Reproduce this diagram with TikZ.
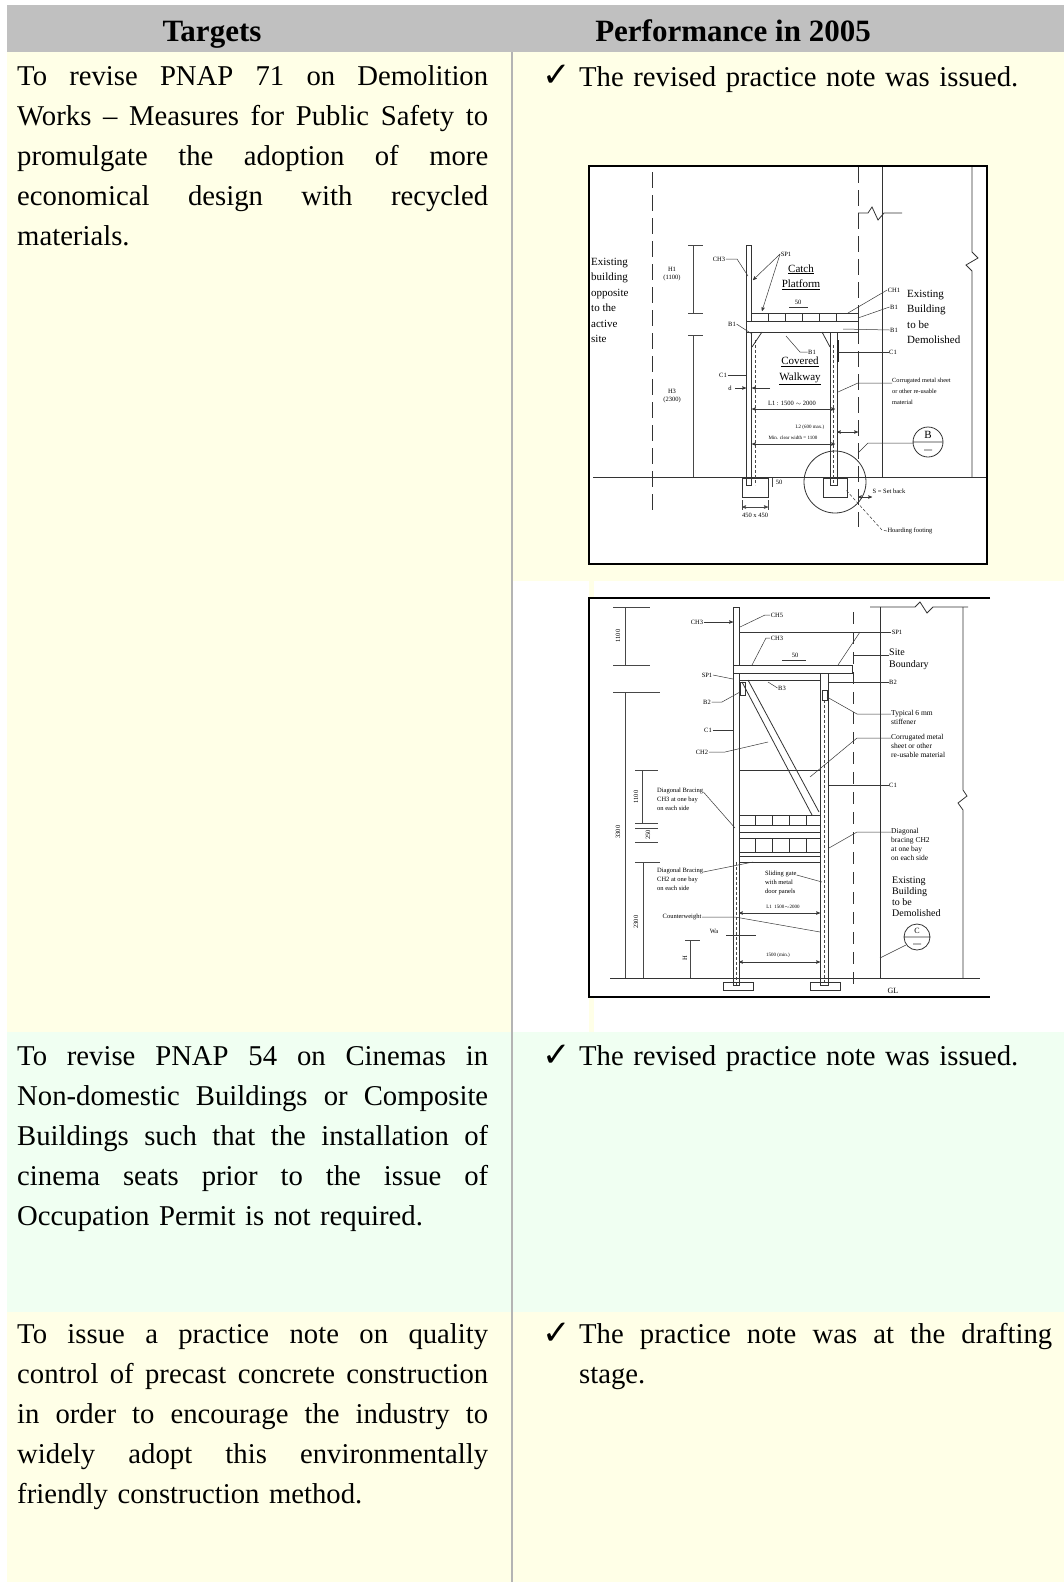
\documentclass[tikz,border=0pt]{standalone}
\usepackage{fontspec}
\setmainfont{Liberation Serif}
\newfontfamily\symfont{DejaVu Sans}
\usetikzlibrary{positioning, arrows}

\definecolor{headgray}{RGB}{192,192,192}
\definecolor{celly}{RGB}{255,255,231}
\definecolor{cellg}{RGB}{240,255,242}
\definecolor{rulegray}{RGB}{180,180,180}

% a justified line of a given width
\newcommand{\jl}[2][471pt]{\leavevmode\hbox to #1{\spaceskip=\fontdimen2\font plus 1fil\relax #2}}

\begin{document}
\begin{tikzpicture}[x=1pt, y=-1pt, >=stealth',
    body/.style={font=\fontsize{28.7}{40}\selectfont, inner sep=0pt, anchor=north west, text width=480pt, align=left},
    head/.style={font=\fontsize{31}{36}\selectfont\bfseries, inner sep=0pt, anchor=base},
    tick/.style={font=\symfont\bfseries\fontsize{34}{38}\selectfont, inner sep=0pt, anchor=base west},
    cl/.style={draw=black!80, line width=0.8pt},
    thinl/.style={draw=black!72, line width=0.55pt},
    ld/.style={draw=black!78, line width=0.5pt},
    lb/.style={font=\fontsize{6.5}{7.5}\selectfont, inner sep=0.5pt},
    lbm/.style={font=\fontsize{11}{15.5}\selectfont, inner sep=0pt, align=left, anchor=north west},
    lbs/.style={font=\fontsize{7.5}{9}\selectfont, inner sep=0pt, align=left, anchor=north west}]

  \useasboundingbox (0,0) rectangle (1064,1582);
  \fill[white] (0,0) rectangle (1064,1582);

  % table background
  \fill[headgray] (7,5) rectangle (1064,52);
  \fill[celly] (7,52) rectangle (1064,1032);
  \fill[white] (513,581) rectangle (1064,1032);
  \fill[celly] (589,581) rectangle (594,1032);
  \fill[cellg] (7,1032) rectangle (1064,1312);
  \fill[celly] (7,1312) rectangle (1064,1582);
  \draw[rulegray, line width=2pt] (512,52) -- (512,1582);

  \node[head] (hTarget) at (212,41) {Targets};
  \node[head] (hPerf) at (733,41) {Performance in 2005};

  % row 1
  \node[body] (tgtA) at (17,57) {\strut\jl{To revise PNAP 71 on Demolition}\\
    \jl{Works -- Measures for Public Safety to}\\
    \jl{promulgate the adoption of more}\\
    \jl{economical design with recycled}\\
    materials.};
  \node[tick] (chkA) at (542,86.5) {✓};
  \node[body, anchor=base west] (resA) at (579,86) {The revised practice note was issued.};

  % first drawing
  \fill[white] (589,166) rectangle (987,564);
  \draw[cl, dash pattern=on 16pt off 7pt] (652,172) -- (652,513);
  \draw[cl, dash pattern=on 16pt off 7pt] (858,167) -- (858,527);
  \draw[cl] (882,167) -- (882,477);
  \draw[cl] (972,167) -- (972,252) -- (978,258) -- (966,265) -- (972,271) -- (972,477);
  \draw[cl] (858,213) -- (868,213) -- (872,207) -- (878,220) -- (884,213) -- (902,213);
  \draw[cl] (593,477) -- (987,477);
  \draw[thinl] (688,245) -- (703,245) (693,245) -- (693,313) (688,313) -- (703,313);
  \draw[thinl] (688,335) -- (703,335) (693,335) -- (693,477);
  \node[lb, align=center] (dimH1) at (672,274) {H1\\(1100)};
  \node[lb, align=center] (dimH3) at (672,396) {H3\\(2300)};
  \draw[cl] (746,245) rectangle (751,485);
  \draw[cl, fill=white] (751,313) rectangle (858,321);
  \foreach \x in {768,785,802,819,836} \draw[cl] (\x,313) -- (\x,321);
  \draw[cl, fill=white] (746,321) rectangle (858,332);
  \draw[cl] (830,332) rectangle (837,485);
  \draw[thinl, densely dashed] (755,340) -- (755,485) (833,345) -- (833,485);
  \draw[cl] (762,332) -- (752,347) (822,332) -- (830,347);
  \draw[black!85, line width=1.4pt] (838,340) -- (838,362);
  \draw[cl] (742,478) rectangle (768,497) (823,478) rectangle (847,497);
  \draw[thinl, <->] (742,507) -- (768,507);
  \draw[thinl] (742,500) -- (742,510) (768,500) -- (768,510) (772,478) -- (772,487);
  \node[lb] (dimFoot) at (755,515) {450 x 450};
  \node[lb] (dim50b) at (779,482) {50};
  \draw[cl] (835,482) circle (31);
  \draw[cl] (928,442) circle (15) (913,442) -- (943,442) (924,450) -- (932,450);
  \node[font=\fontsize{11}{12}\selectfont, inner sep=0pt] (secB) at (928,435) {B};
  \draw[ld] (913,443) -- (868,443) -- (858,453);

  \node[lbm, font=\fontsize{11}{15.4}\selectfont] (oppBldg) at (591,258) {Existing\\building\\opposite\\to the\\active\\site};
  \node[lbm] (demBldgA) at (907,290) {Existing\\Building\\to be\\Demolished};
  \node[lbm, align=center, anchor=center] (catchPf) at (801,277) {\underline{Catch}\\\underline{Platform}};
  \node[lbm, align=center, anchor=center] (walkway) at (800,371) {\underline{Covered}\\\underline{Walkway}};

  \node[lb] (ch3a) at (719,259) {CH3};
  \draw[ld] (ch3a.east) -- (737,259) -- (748,276);
  \node[lb] (sp1a) at (786,254) {SP1};
  \draw[ld, ->] (sp1a.west) -- (753,280);
  \draw[ld, ->] (sp1a.west) -- (762,311);
  \node[lb] (w50a) at (798,302) {50};
  \draw[ld] (789,307) -- (808,307);
  \node[lb] (ch1a) at (894,290) {CH1};
  \draw[ld] (ch1a.west) -- (848,313);
  \node[lb] (b1a) at (894,307) {B1};
  \draw[ld] (b1a.west) -- (858,318);
  \node[lb] (b1b) at (894,330) {B1};
  \draw[ld] (b1b.west) -- (843,329);
  \node[lb] (c1a) at (893,352) {C1};
  \draw[ld] (c1a.west) -- (838,352);
  \node[lb] (b1c) at (732,324) {B1};
  \draw[ld] (b1c.east) -- (752,334);
  \node[lb] (b1d) at (812,352) {B1};
  \draw[ld] (b1d.west) -- (800,352) -- (786,336);
  \node[lb] (c1b) at (723,375) {C1};
  \draw[ld] (c1b.east) -- (746,375);
  \node[lb] (gapD) at (730,388) {d};
  \draw[ld, ->] (735,388) -- (746,388);
  \draw[ld, ->] (770,388) -- (752,388);
  \node[lbs, font=\fontsize{6.3}{11}\selectfont] (corrA) at (892,378) {Corrugated metal sheet\\or other re-usable\\material};
  \draw[ld] ([yshift=-5pt]corrA.north west) -- (858,383) -- (838,392);
  \node[lb] (spanL1) at (792,403) {L1 : 1500 $\sim$ 2000};
  \draw[ld, <->] (752,409) -- (835,409);
  \node[lb, font=\fontsize{5}{6}\selectfont] (spanL2) at (810,427) {L2 (600 max.)};
  \draw[ld, <->] (837,432) -- (858,432);
  \node[lb, font=\fontsize{5}{6}\selectfont] (clearW) at (793,438) {Min. clear width = 1100};
  \draw[ld, <->] (752,444) -- (835,444);
  \node[lb] (setBack) at (889,491) {S = Set back};
  \draw[ld, <->] (858,497) -- (872,497);
  \node[lb] (hoardFt) at (910,531) {Hoarding footing};
  \draw[ld, densely dashed] (hoardFt.west) -- (882,530) -- (846,490);
  \draw[black, line width=2pt] (589,166) rectangle (987,564);

  % second drawing
  \fill[white] (589,598) rectangle (990,997);
  \draw[cl] (870,607) -- (915,607) -- (920,602) -- (927,613) -- (933,607) -- (968,607);
  \draw[cl] (880,607) -- (880,978);
  \draw[cl] (963,607) -- (963,790) -- (967,796) -- (958,803) -- (963,810) -- (963,978);
  \draw[cl, dash pattern=on 12pt off 8pt] (853,612) -- (853,985);
  \draw[cl] (610,978) -- (980,978);
  \draw[thinl] (613,607) -- (650,607) (625,607) -- (625,665) (613,665) -- (650,665);
  \draw[thinl] (613,692) -- (660,692) (625,692) -- (625,978);
  \draw[thinl] (635,770) -- (658,770) (642,770) -- (642,823) (635,823) -- (658,823);
  \draw[thinl] (635,828) -- (658,828) (635,842) -- (658,842);
  \draw[thinl] (635,862) -- (660,862) (643,862) -- (643,978);
  \draw[thinl] (685,940) -- (700,940) (690,940) -- (690,978);
  \node[lb, rotate=90] (dimA) at (618,636) {1100};
  \node[lb, rotate=90] (dimB) at (618,832) {3300};
  \node[lb, rotate=90] (dimC) at (636,797) {1100};
  \node[lb, rotate=90] (dimD) at (648,835) {250};
  \node[lb, rotate=90] (dimE) at (636,922) {2300};
  \node[lb, rotate=90] (dimF) at (685,958) {H};

  \draw[cl] (733,607) rectangle (739,985);
  \draw[cl, fill=white] (733,665) rectangle (852,673);
  \draw[cl] (739,673) rectangle (820,680);
  \draw[cl] (820,673) rectangle (828,985);
  \draw[thinl, densely dashed] (824,700) -- (824,985) (736,862) -- (736,985);
  \draw[cl] (742,682) -- (812,815) (748,680) -- (819,812);
  \draw[cl] (740,682) rectangle (745,695) (822,690) rectangle (827,700);
  \draw[cl] (739,770) -- (820,770);
  \draw[cl] (739,815) rectangle (820,825) (739,832) -- (820,832);
  \draw[cl] (739,838) rectangle (820,852) (739,856) rectangle (820,862);
  \foreach \x in {755,772,789,806} \draw[cl] (\x,815) -- (\x,825) (\x,838) -- (\x,852);
  \draw[cl] (723,982) rectangle (753,990) (810,982) rectangle (840,990);

  \node[lb] (ch3b) at (697,622) {CH3};
  \draw[ld, ->] (ch3b.east) -- (733,622);
  \node[lb] (ch5) at (777,615) {CH5};
  \draw[ld] (ch5.west) -- (765,615) -- (740,627);
  \node[lb] (ch3c) at (777,638) {CH3};
  \draw[ld] (ch3c.west) -- (766,638) -- (752,665);
  \node[lb] (sp1b) at (897,632) {SP1};
  \draw[ld] (sp1b.west) -- (739,632);
  \draw[ld] (860,632) -- (838,665);
  \node[lb] (w50b) at (795,655) {50};
  \draw[ld] (782,660) -- (806,660);
  \node[lbs, font=\fontsize{10}{12}\selectfont] (siteB) at (889,649) {Site\\Boundary};
  \draw[ld] ([yshift=-6pt]siteB.north west) -- (853,655);
  \node[lb] (sp1c) at (707,675) {SP1};
  \draw[ld] (sp1c.east) -- (733,679);
  \node[lb] (b2a) at (893,682) {B2};
  \draw[ld] (b2a.west) -- (828,682);
  \node[lb] (b3) at (782,688) {B3};
  \draw[ld] (b3.west) -- (768,682);
  \node[lb] (b2b) at (707,702) {B2};
  \draw[ld] (b2b.east) -- (722,702) -- (740,692);
  \node[lbs] (stiff) at (891,710) {Typical 6 mm\\stiffener};
  \draw[ld] ([yshift=-4pt]stiff.north west) -- (857,714) -- (827,697);
  \node[lb] (c1c) at (708,730) {C1};
  \draw[ld] (c1c.east) -- (733,730);
  \node[lbs] (corrB) at (891,734) {Corrugated metal\\sheet or other\\re-usable material};
  \draw[ld] ([yshift=-4pt]corrB.north west) -- (857,738) -- (810,777);
  \node[lb] (ch2a) at (702,752) {CH2};
  \draw[ld] (ch2a.east) -- (725,752) -- (768,742);
  \node[lb] (c1d) at (893,785) {C1};
  \draw[ld] (c1d.west) -- (828,785);
  \node[lbs, font=\fontsize{6.5}{9}\selectfont] (braceA) at (657,788) {Diagonal Bracing\\CH3 at one bay\\on each side};
  \draw[ld] ([yshift=-4pt]braceA.north east) -- (735,828);
  \node[lbs] (braceB) at (891,828) {Diagonal\\bracing CH2\\at one bay\\on each side};
  \draw[ld] ([yshift=-4pt]braceB.north west) -- (857,832) -- (829,848);
  \node[lbs, font=\fontsize{6.5}{9}\selectfont] (braceC) at (657,868) {Diagonal Bracing\\CH2 at one bay\\on each side};
  \draw[ld] ([yshift=-4pt]braceC.north east) -- (753,862);
  \node[lbs, font=\fontsize{6.5}{9}\selectfont] (gate) at (765,871) {Sliding gate\\with metal\\door panels};
  \draw[ld] ([yshift=-4pt]gate.north east) -- (822,882);
  \node[lbs, font=\fontsize{10}{11}\selectfont] (demBldgB) at (892,877) {Existing\\Building\\to be\\Demolished};
  \node[lb, font=\fontsize{5}{6}\selectfont] (spanL1b) at (783,907) {L1 \ 1500$\sim$2000};
  \draw[ld, <->] (739,913) -- (820,913);
  \node[lb] (cweight) at (682,917) {Counterweight};
  \draw[ld] (cweight.east) -- (735,917) -- (820,932);
  \node[lb] (wa) at (714,931) {Wa};
  \draw[ld] (726,935) -- (756,935);
  \node[lb, font=\fontsize{5}{6}\selectfont] (minW) at (778,955) {1500 (min.)};
  \draw[ld, <->] (739,962) -- (820,962);
  \draw[cl] (917,937) circle (13) (904,937) -- (930,937) (913,944) -- (921,944);
  \node[font=\fontsize{8}{9}\selectfont, inner sep=0pt] (secC) at (917,931) {C};
  \draw[ld] (906,945) -- (880,958);
  \node[lb, font=\fontsize{8}{9}\selectfont] (gl) at (893,991) {GL};
  \draw[black, line width=2pt] (990,598) -- (589,598) -- (589,997) -- (990,997);

  % row 2
  \node[body] (tgtB) at (17,1037) {\strut\jl{To revise PNAP 54 on Cinemas in}\\
    \jl{Non-domestic Buildings or Composite}\\
    \jl{Buildings such that the installation of}\\
    \jl{cinema seats prior to the issue of}\\
    Occupation Permit is not required.};
  \node[tick] (chkB) at (542,1066.5) {✓};
  \node[body, anchor=base west] (resB) at (579,1065) {The revised practice note was issued.};

  % row 3
  \node[body] (tgtC) at (17,1315) {\strut\jl{To issue a practice note on quality}\\
    \jl{control of precast concrete construction}\\
    \jl{in order to encourage the industry to}\\
    \jl{widely adopt this environmentally}\\
    friendly construction method.};
  \node[tick] (chkC) at (542,1344.5) {✓};
  \node[body, anchor=north west] (resC) at (579,1315) {\strut\jl[473pt]{The practice note was at the drafting}\\stage.};
\end{tikzpicture}
\end{document}
